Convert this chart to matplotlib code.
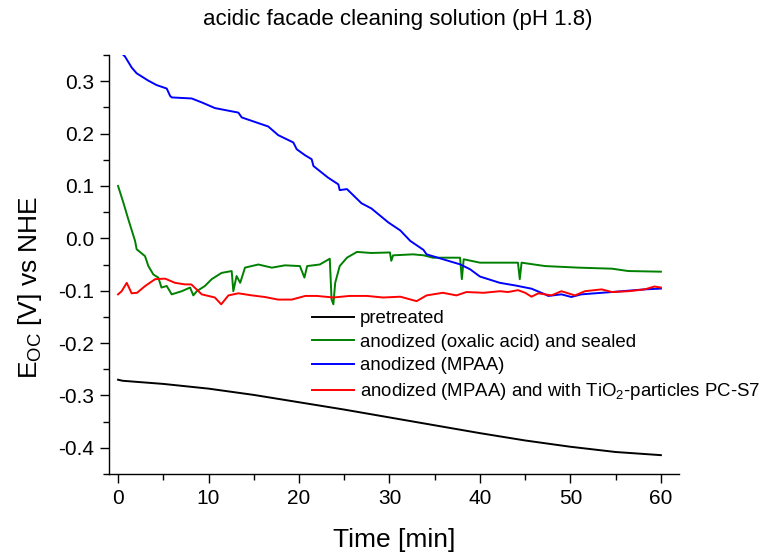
import matplotlib
matplotlib.use("Agg")
import matplotlib.pyplot as plt
from matplotlib.ticker import MultipleLocator, FormatStrFormatter

plt.rcParams['font.family'] = ['Liberation Sans', 'DejaVu Sans']
plt.rcParams['mathtext.fontset'] = 'custom'
plt.rcParams['mathtext.rm'] = 'Liberation Sans'
plt.rcParams['mathtext.it'] = 'Liberation Sans'

# pretreated
t_pre = [0, 0.5, 2, 5, 10, 15, 20, 25, 30, 35, 40, 45, 50, 55, 60]
e_pre = [-0.270, -0.272, -0.274, -0.278, -0.287, -0.299, -0.313, -0.327,
         -0.342, -0.357, -0.372, -0.386, -0.398, -0.408, -0.414]

# anodized (oxalic acid) and sealed
t_ox = [0, 0.59, 1.14, 1.88, 2.06, 2.98, 3.35, 3.9, 4.45, 4.8, 5.38, 5.93, 7.04,
        7.96, 8.32, 8.7, 9.6, 10.35, 11.45, 12.56, 12.74, 13.1, 13.5, 14.03,
        15.5, 17.0, 18.45, 20.1, 20.6, 20.9, 22.3, 23.4, 23.6, 23.8, 24.0, 24.5,
        25.3, 26.4, 28.0, 30.05, 30.2, 30.4, 32.6, 33.8, 34.8, 37.8, 38.0, 38.2,
        40.0, 42.0, 44.2, 44.4, 44.6, 47.2, 50.9, 54.6, 56.4, 60.0]
e_ox = [0.100, 0.068, 0.036, -0.005, -0.021, -0.034, -0.053, -0.069, -0.075,
        -0.094, -0.091, -0.107, -0.101, -0.094, -0.109, -0.101, -0.091, -0.078,
        -0.066, -0.0625, -0.101, -0.072, -0.085, -0.056, -0.050, -0.056, -0.0516,
        -0.053, -0.075, -0.053, -0.050, -0.039, -0.117, -0.126, -0.085, -0.053,
        -0.037, -0.026, -0.028, -0.027, -0.043, -0.0325, -0.0306, -0.0325, -0.037,
        -0.037, -0.078, -0.040, -0.0465, -0.0465, -0.0465, -0.078, -0.0465,
        -0.053, -0.056, -0.058, -0.0625, -0.0637]

# anodized (MPAA)
t_mpaa = [0, 0.77, 1.51, 2.06, 3.35, 4.27, 5.38, 5.75, 5.93, 8.14, 9.25, 10.72,
          13.3, 13.67, 16.6, 17.7, 19.37, 19.75, 20.66, 21.4, 21.6, 23.2, 24.35,
          24.5, 25.3, 26.9, 28.0, 29.9, 31.2, 32.3, 33.75, 34.1, 37.8, 38.9, 40.0,
          42.2, 43.9, 45.7, 47.2, 47.55, 49.0, 50.1, 51.2, 54.55, 58.2, 60.0]
e_mpaa = [0.360, 0.347, 0.326, 0.315, 0.301, 0.2925, 0.286, 0.272, 0.269, 0.267,
          0.2595, 0.2486, 0.240, 0.2308, 0.2135, 0.197, 0.183, 0.170, 0.1587,
          0.151, 0.138, 0.116, 0.103, 0.092, 0.094, 0.067, 0.057, 0.030, 0.015,
          -0.005, -0.022, -0.0306, -0.0497, -0.059, -0.073, -0.085, -0.090,
          -0.0962, -0.107, -0.110, -0.107, -0.112, -0.107, -0.1026, -0.0975,
          -0.096]

# anodized (MPAA) and with TiO2-particles PC-S7
t_tio2 = [0, 0.4, 0.96, 1.5, 2.1, 3.0, 4.1, 5.2, 6.3, 7.4, 8.1, 9.25, 10.7, 11.4,
          12.2, 13.3, 14.8, 16.2, 17.7, 19.2, 20.7, 21.95, 23.8, 25.6, 27.5, 29.3,
          31.2, 33.0, 34.1, 35.9, 37.4, 38.5, 40.4, 42.2, 43.1, 44.2, 45.0, 45.7,
          46.45, 47.9, 49.0, 50.5, 51.6, 53.45, 54.6, 56.4, 58.2, 59.3, 60.0]
e_tio2 = [-0.107, -0.101, -0.085, -0.105, -0.104, -0.091, -0.078, -0.077, -0.085,
          -0.088, -0.088, -0.107, -0.113, -0.126, -0.109, -0.105, -0.109, -0.112,
          -0.117, -0.117, -0.110, -0.110, -0.113, -0.110, -0.110, -0.113, -0.1115,
          -0.120, -0.109, -0.104, -0.109, -0.1026, -0.104, -0.101, -0.1026, -0.099,
          -0.104, -0.1115, -0.105, -0.109, -0.101, -0.109, -0.101, -0.0975,
          -0.1026, -0.101, -0.0975, -0.092, -0.094]

series = [
    (t_pre, e_pre, '#000000', 'pretreated'),
    (t_ox, e_ox, '#008000', 'anodized (oxalic acid) and sealed'),
    (t_mpaa, e_mpaa, '#0000FF', 'anodized (MPAA)'),
    (t_tio2, e_tio2, '#FF0000', r'anodized (MPAA) and with TiO$_2$-particles PC-S7'),
]

W, H = 760, 558
fig = plt.figure(figsize=(W / 100, H / 100), dpi=100)
ax = fig.add_axes([109 / W, 1 - 474 / H, (679 - 109) / W, (474 - 55) / H])

for t, e, c, lab in series:
    ax.plot(t, e, color=c, lw=1.4, label=lab)

ax.set_xlim(-1, 62)
ax.set_ylim(-0.45, 0.35)
ax.xaxis.set_major_locator(MultipleLocator(10))
ax.xaxis.set_minor_locator(MultipleLocator(5))
ax.yaxis.set_major_locator(MultipleLocator(0.1))
ax.yaxis.set_minor_locator(MultipleLocator(0.05))
ax.yaxis.set_major_formatter(FormatStrFormatter('%.1f'))
for s in ('top', 'right'):
    ax.spines[s].set_visible(False)
for s in ('left', 'bottom'):
    ax.spines[s].set_linewidth(1.0)
ax.tick_params(which='major', direction='out', length=6.5, width=1.0, labelsize=15, pad=4)
ax.tick_params(which='minor', direction='out', length=4.3, width=1.0)

fig.text(398 / W, 1 - 19 / H, 'acidic facade cleaning solution (pH 1.8)',
         ha='center', va='center', fontsize=16)
fig.text(394 / W, 1 - 540 / H, 'Time [min]', ha='center', va='center', fontsize=19)
fig.text(30 / W, 1 - 287 / H, r'E$_{\mathrm{OC}}$ [V] vs NHE', ha='center', va='center',
         rotation=90, fontsize=19)

ax.legend(loc='upper left', bbox_to_anchor=(312 / W, 1 - 310 / H),
          bbox_transform=fig.transFigure, frameon=False, fontsize=13.4,
          handlelength=2.26, handletextpad=0.32, labelspacing=0.36, borderpad=0,
          borderaxespad=0)

fig.savefig('out.png', dpi=100)
